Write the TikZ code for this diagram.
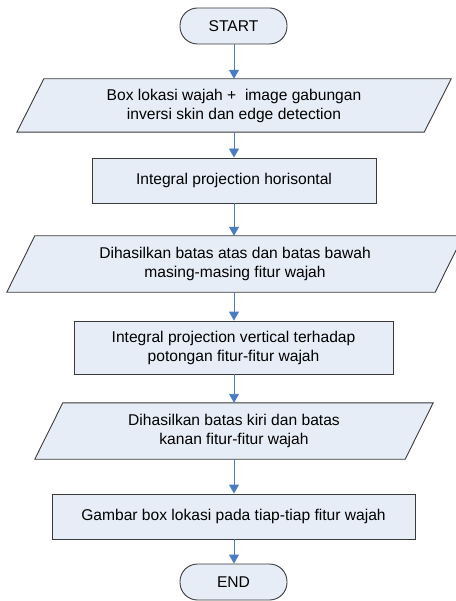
\documentclass[tikz,border=0pt]{standalone}
\usepackage{fontspec}
\setmainfont{Liberation Sans}
\usetikzlibrary{arrows.meta,calc,backgrounds}
\definecolor{boxfill}{HTML}{E7EDF7}
\definecolor{boxline}{HTML}{3A3A3A}
\definecolor{arrowblue}{HTML}{4A7CC4}
\tikzset{
  base/.style={font=\fontsize{15.6}{19}\selectfont, align=center, inner sep=0pt},
  term/.style={base, draw=boxline, fill=boxfill, line width=0.9pt, rounded corners=17.5pt, minimum width=107pt, minimum height=36pt},
  procbox/.style={base, draw=boxline, fill=boxfill, line width=0.9pt},
  iobox/.style={base},
  para/.style={draw=boxline, fill=boxfill, line width=0.9pt},
  flow/.style={draw=arrowblue, line width=0.9pt, -{Triangle[width=10pt,length=9pt]}},
}
\newcommand{\drawpara}[2]{%
  \draw[para] ($(#1.north west)+(#2,0)$) -- ($(#1.north east)+(#2,0)$) -- ($(#1.south east)+(-#2,0)$) -- ($(#1.south west)+(-#2,0)$) -- cycle;}
\begin{document}
\begin{tikzpicture}[x=1pt,y=-1pt]
\useasboundingbox (0,0) rectangle (455,601);
% terminals
\node[term] (start) at (233.5,26) {START};
\node[term] (end) at (233.5,582) {END};
% input/output nodes
\node[iobox, minimum width=407pt, minimum height=53pt] (p1) at (234,105.5) {Box lokasi wajah +\ \ image gabungan\\inversi skin dan edge detection};
\node[iobox, minimum width=428pt, minimum height=56pt] (p2) at (235,264) {Dihasilkan batas atas dan batas bawah\\masing-masing fitur wajah};
\node[iobox, minimum width=370pt, minimum height=56pt] (p3) at (234,431) {Dihasilkan batas kiri dan batas\\kanan fitur-fitur wajah};
\begin{pgfonlayer}{background}
\drawpara{p1}{13.5}
\drawpara{p2}{14}
\drawpara{p3}{14}
\end{pgfonlayer}
% process boxes
\node[procbox, minimum width=284pt, minimum height=45pt] (b2) at (234,180.5) {Integral projection horisontal};
\node[procbox, minimum width=319pt, minimum height=53pt] (b3) at (233.5,347.5) {Integral projection vertical terhadap\\potongan fitur-fitur wajah};
\node[procbox, minimum width=363pt, minimum height=45pt] (b4) at (233.5,516.5) {Gambar box lokasi pada tiap-tiap fitur wajah};
% connectors
\draw[flow] (start.south -| 234,0) -- (p1.north -| 234,0);
\draw[flow] (p1.south -| 234,0) -- (b2.north -| 234,0);
\draw[flow] (b2.south -| 234,0) -- (p2.north -| 234,0);
\draw[flow] (p2.south -| 234,0) -- (b3.north -| 234,0);
\draw[flow] (b3.south -| 234,0) -- (p3.north -| 234,0);
\draw[flow] (p3.south -| 234,0) -- (b4.north -| 234,0);
\draw[flow] (b4.south -| 234,0) -- (end.north -| 234,0);
\end{tikzpicture}
\end{document}
